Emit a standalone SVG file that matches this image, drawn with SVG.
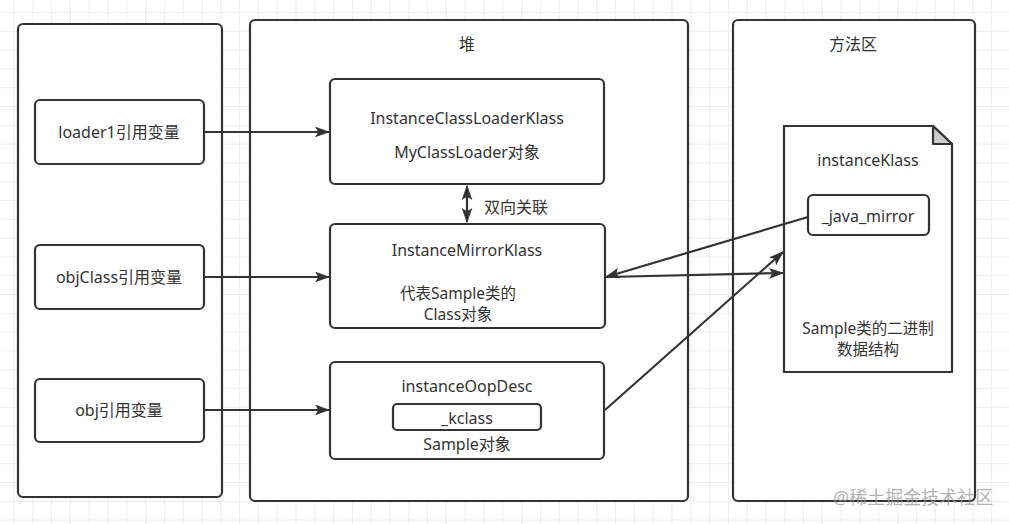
<svg xmlns="http://www.w3.org/2000/svg" width="1009" height="524" viewBox="0 0 1009 524">
<defs>
<pattern id="grid" x="13.5" y="12" width="18.8" height="18.8" patternUnits="userSpaceOnUse">
<path d="M0,0.5 H18.8 M0.5,0 V18.8" fill="none" stroke="#ececec" stroke-width="1"/>
</pattern>
<marker id="ah" viewBox="0 0 14 10" refX="13" refY="5" markerWidth="15" markerHeight="11" markerUnits="userSpaceOnUse" orient="auto-start-reverse">
<path d="M0,0 L14,5 L0,10 L3,5 Z" fill="#333"/>
</marker>
</defs>
<style>
.box{fill:#fff;stroke:#333;stroke-width:2.2}
.t{font-family:"Noto Sans","Noto Sans CJK SC",sans-serif;font-size:16px;fill:#333;text-anchor:middle;dominant-baseline:central}
.s{font-size:15.5px}
.c{fill:none;stroke:#333;stroke-width:2.2}
</style>
<rect width="1009" height="524" fill="#fff"/>
<rect width="1009" height="524" fill="url(#grid)"/>

<g id="stack">
<rect class="box" x="18" y="24" width="204" height="473" rx="5"/>
</g>
<g id="heap">
<rect class="box" x="250" y="20" width="438" height="481" rx="5"/>
<text class="t" x="467" y="44">堆</text>
</g>
<g id="method-area">
<rect class="box" x="733" y="20" width="242" height="481" rx="5"/>
<text class="t" x="853" y="44">方法区</text>
</g>

<g id="loader1">
<rect class="box" x="35" y="100" width="169" height="64" rx="5"/>
<text class="t" x="119" y="132">loader1引用变量</text>
</g>
<g id="objClass">
<rect class="box" x="35" y="245" width="169" height="64" rx="5"/>
<text class="t" x="119" y="277">objClass引用变量</text>
</g>
<g id="obj">
<rect class="box" x="35" y="379" width="169" height="63" rx="5"/>
<text class="t" x="119" y="410">obj引用变量</text>
</g>

<g id="classLoaderKlass">
<rect class="box" x="330" y="79" width="274" height="105" rx="5"/>
<text class="t" x="467" y="118">InstanceClassLoaderKlass</text>
<text class="t" x="467" y="152">MyClassLoader对象</text>
</g>
<g id="mirrorKlass">
<rect class="box" x="330" y="224" width="275" height="104" rx="5"/>
<text class="t" x="467" y="250">InstanceMirrorKlass</text>
<text class="t s" x="458" y="292.5">代表Sample类的</text>
<text class="t s" x="458" y="313.5">Class对象</text>
</g>
<g id="oopDesc">
<rect class="box" x="330" y="362" width="274" height="97" rx="5"/>
<text class="t" x="467" y="386">instanceOopDesc</text>
<rect class="box" x="393" y="404" width="148" height="26" rx="4"/>
<text class="t" x="467" y="418">_kclass</text>
<text class="t" x="467" y="444">Sample对象</text>
</g>

<g id="instanceKlass">
<path class="box" d="M784,126 H933 L952,144 V372 H784 Z"/>
<path d="M933,126 V144 H952 Z" fill="#ccc" stroke="#333" stroke-width="2.2" stroke-linejoin="round"/>
<text class="t" x="868" y="160">instanceKlass</text>
<rect class="box" x="808" y="195" width="121" height="40" rx="5"/>
<text class="t" x="868" y="216">_java_mirror</text>
<text class="t s" x="868" y="327.5">Sample类的二进制</text>
<text class="t s" x="868" y="348.5">数据结构</text>
</g>

<g id="connectors">
<line class="c" x1="204" y1="132" x2="329" y2="132" marker-end="url(#ah)"/>
<line class="c" x1="204" y1="277" x2="329" y2="277" marker-end="url(#ah)"/>
<line class="c" x1="204" y1="410" x2="329" y2="410" marker-end="url(#ah)"/>
<line class="c" x1="467" y1="186" x2="467" y2="222" marker-start="url(#ah)" marker-end="url(#ah)"/>
<line class="c" x1="808" y1="217" x2="606" y2="277" marker-end="url(#ah)"/>
<line class="c" x1="606" y1="277" x2="783" y2="273" marker-end="url(#ah)"/>
<line class="c" x1="605" y1="410" x2="783" y2="252" marker-end="url(#ah)"/>
<text class="t" x="484" y="207" style="text-anchor:start">双向关联</text>
</g>

<text x="833" y="497" style="font-family:'Noto Sans','Noto Sans CJK SC',sans-serif;font-size:18px;fill:#999;fill-opacity:0.75;dominant-baseline:central">@稀土掘金技术社区</text>
</svg>
